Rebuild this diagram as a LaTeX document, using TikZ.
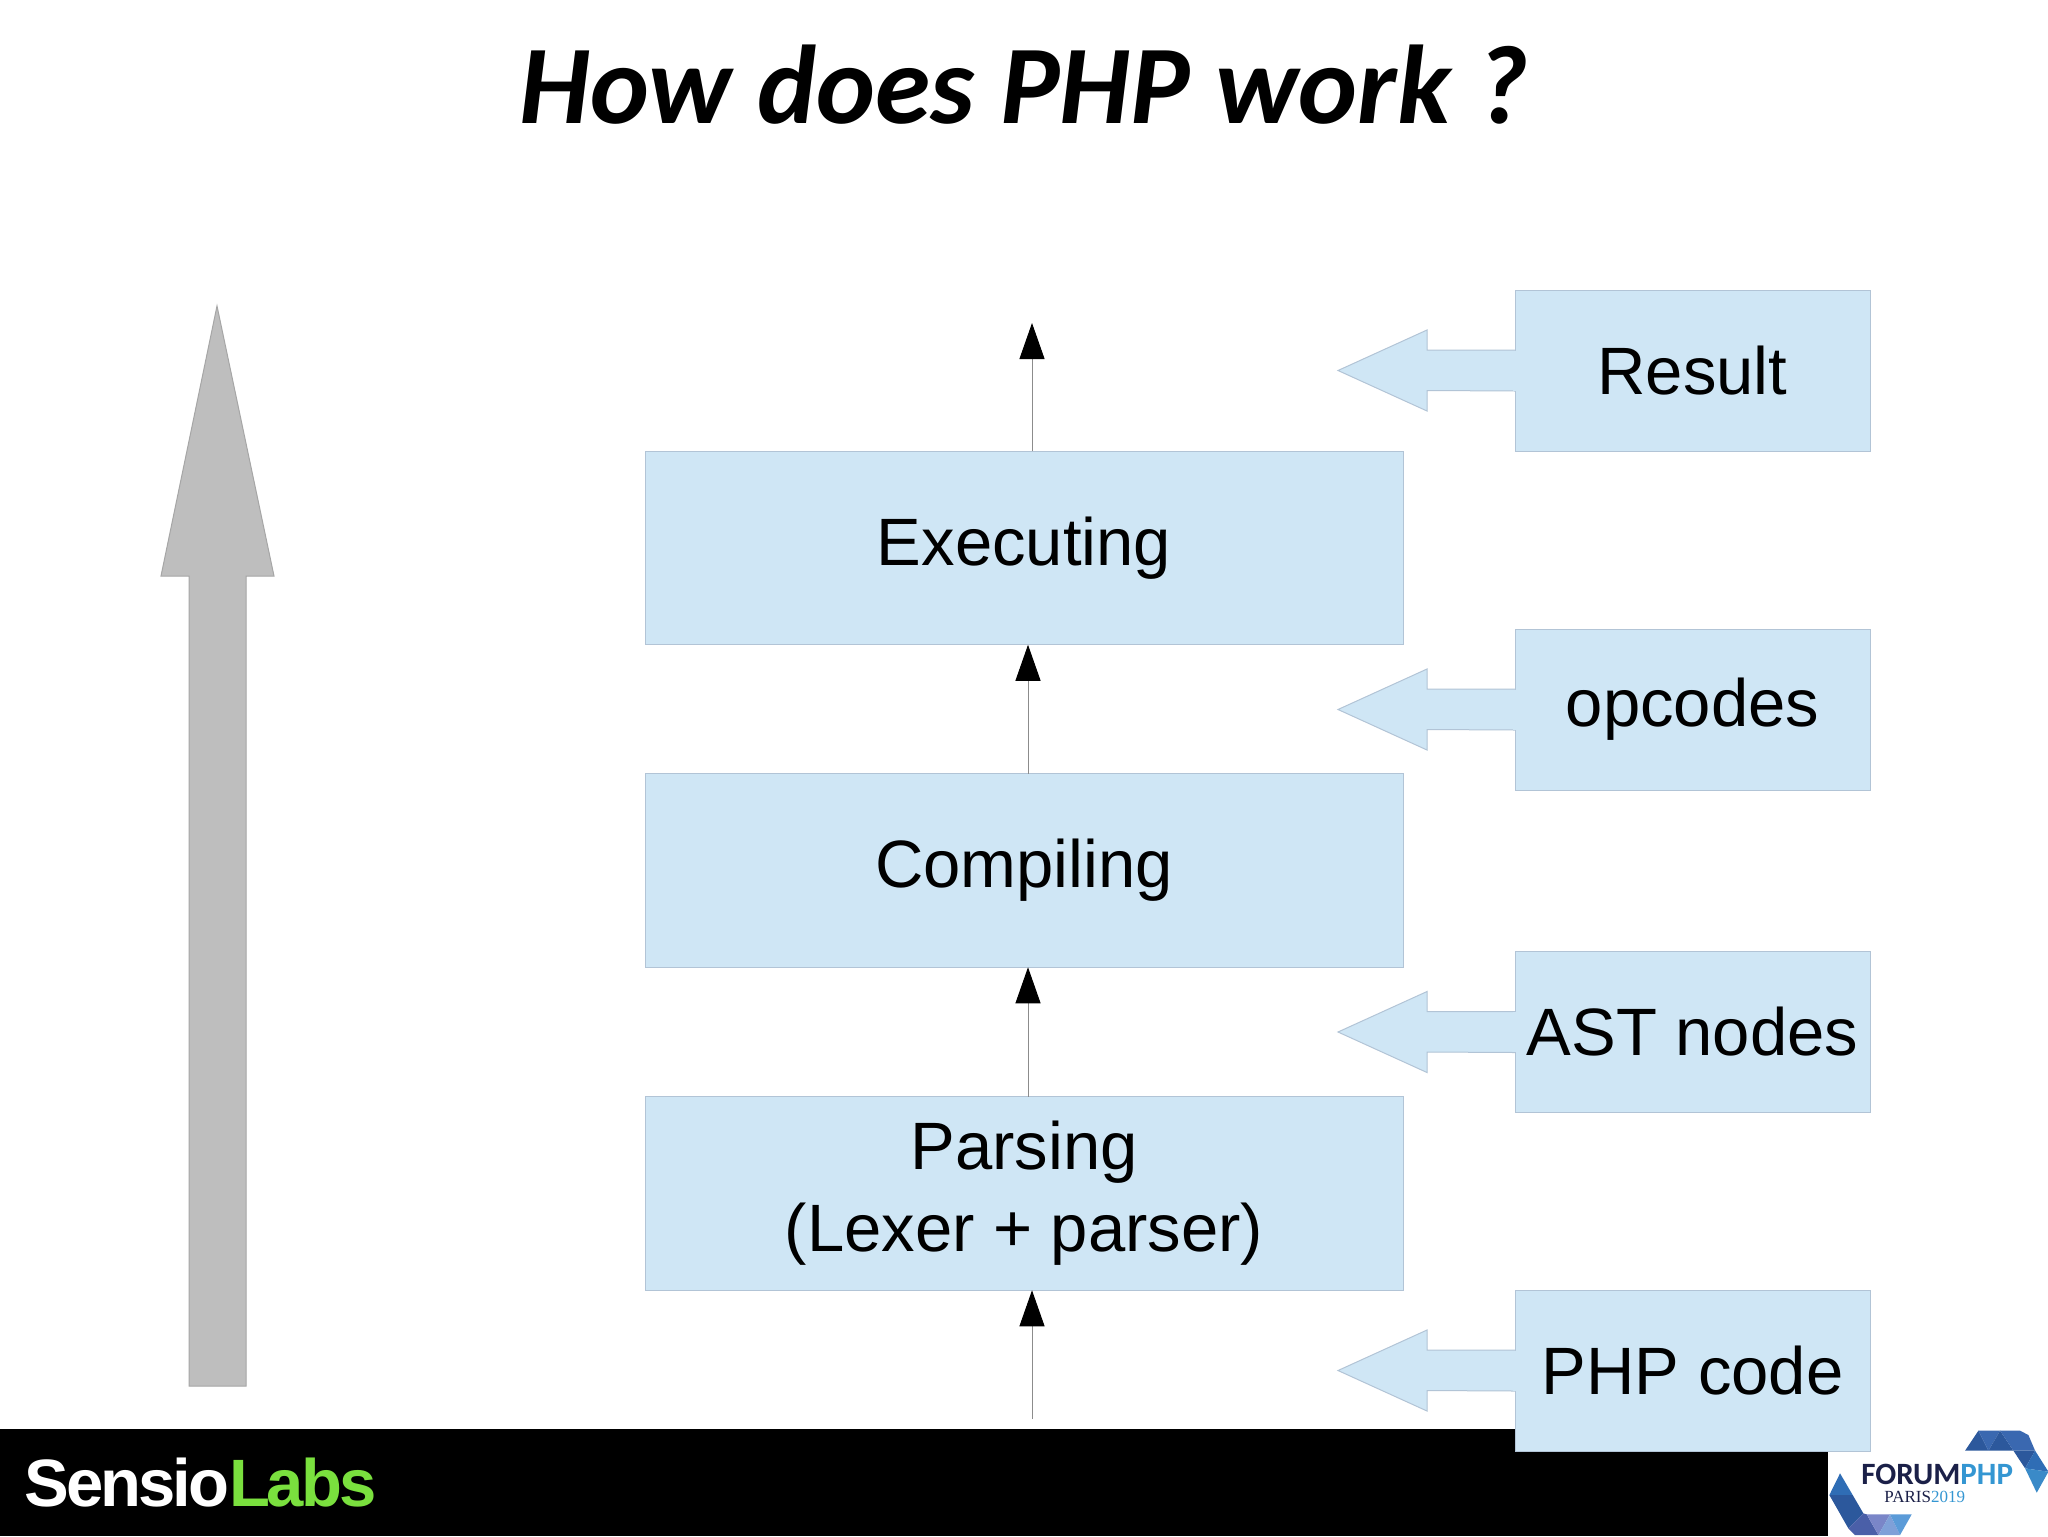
\documentclass[tikz,border=0pt]{standalone}
\usepackage{fontspec}
\setmainfont{Liberation Sans}
\newfontfamily\titlefont{Carlito}
\newfontfamily\sensiofont[LetterSpace=-4.5]{Liberation Sans}
\newfontfamily\forumfont{Carlito}
\newfontfamily\parisfont{Liberation Serif}
\usetikzlibrary{arrows.meta}
\definecolor{boxfill}{RGB}{207,230,245}
\definecolor{boxline}{RGB}{178,196,214}
\definecolor{biggrey}{RGB}{190,190,190}
\definecolor{sensiogreen}{RGB}{122,224,62}
\definecolor{forumnavy}{RGB}{27,32,72}
\definecolor{forumblue}{RGB}{52,150,210}
\definecolor{ribA}{RGB}{44,88,156}
\definecolor{ribB}{RGB}{58,104,176}
\definecolor{ribC}{RGB}{47,109,181}
\definecolor{ribD}{RGB}{58,138,200}
\definecolor{ribE}{RGB}{74,95,168}
\definecolor{ribF}{RGB}{122,134,200}
\definecolor{ribG}{RGB}{127,160,216}
\definecolor{ribH}{RGB}{91,155,216}
\tikzstyle{stage} = [draw=boxline, fill=boxfill, line width=0.5pt, rectangle, inner sep=0pt, outer sep=0pt, minimum width=379pt, minimum height=96.75pt, align=center, font=\fontsize{33.5}{41}\selectfont]
\tikzstyle{data} = [draw=boxline, fill=boxfill, line width=0.5pt, rectangle, inner sep=0pt, outer sep=0pt, minimum width=177.5pt, minimum height=80.5pt, font=\fontsize{33.5}{41}\selectfont]
\tikzstyle{feed} = [draw=boxline, fill=boxfill, line width=0.5pt, line join=miter]
\tikzstyle{flow} = [draw=black!45, line width=0.5pt, -{Triangle[length=18pt,width=12.5pt,black]}]
\newcommand{\feedarrow}[1]{%
	\draw [feed] ([yshift=10.25pt]#1.west) -- ++(-44pt,0) -- ++(0,10pt) -- ++(-44.5pt,-20.25pt) -- ++(44.5pt,-20.25pt) -- ++(0,10.25pt) -- ([yshift=-10.25pt]#1.west);
	\fill [boxfill] ([yshift=10pt,xshift=-1pt]#1.west) rectangle ([yshift=-10pt,xshift=0.5pt]#1.west);
}

\begin{document}
\begin{tikzpicture}[x=0.5pt, y=-0.5pt]
	\useasboundingbox (0,0) rectangle (2048,1536);
	\fill [white] (0,0) rectangle (2048,1536);
	\fill [black] (0,1429) rectangle (1828,1536);

	\node (title) at (1024,85) {\titlefont\fontsize{56}{60}\selectfont\bfseries\itshape How does PHP work ?};

	% big arrow on the left
	\draw [draw=black!35, fill=biggrey, line width=0.5pt] (217,306) -- (274,576) -- (246,576) -- (246,1386) -- (189,1386) -- (189,576) -- (161,576) -- cycle;

	% stages
	\node [stage] (exec) at (1024,548) {Executing};
	\node [stage] (comp) at (1024,870.5) {Compiling};
	\node [stage] (pars) at (1024,1193.5) {Parsing\\(Lexer + parser)};

	% data
	\node [data] (res) at (1692.5,370.5) {Result};
	\node [data] (opc) at (1692.5,709.5) {opcodes};
	\node [data] (ast) at (1692.5,1032) {AST nodes};
	\node [data] (php) at (1692.5,1370.5) {PHP code};
	\foreach \name in {res,opc,ast,php} {
		\feedarrow{\name}
	}

	\coordinate (top) at (1032,323);
	\coordinate (bottom) at (1032,1419);
	\draw [flow] (exec.north -| top) -- (top);
	\draw [flow] ([xshift=2pt]comp.north) -- ([xshift=2pt]exec.south);
	\draw [flow] ([xshift=2pt]pars.north) -- ([xshift=2pt]comp.south);
	\draw [flow] (bottom) -- (pars.south -| bottom);

	% logos
	\node [anchor=base west, inner sep=0pt] (sensio) at (24,1506) {\sensiofont\fontsize{33.5}{36}\selectfont\bfseries\textcolor{white}{Sensio}\textcolor{sensiogreen}{Labs}};

	\begin{scope}[shift={(1780,1400)}, x=0.1667pt, y=-0.1667pt]
		\fill [ribA] (555,152) -- (595,92) -- (625,152) -- cycle;
		\fill [ribB] (595,92) -- (660,92) -- (625,152) -- cycle;
		\fill [ribA] (625,152) -- (660,92) -- (700,152) -- cycle;
		\fill [ribB] (660,92) -- (720,92) -- (745,105) -- (765,152) -- (700,152) -- cycle;
		\fill [ribA] (700,152) -- (765,152) -- (735,205) -- cycle;
		\fill [ribC] (765,152) -- (805,215) -- (735,205) -- cycle;
		\fill [ribD] (735,205) -- (805,215) -- (770,278) -- cycle;

		\fill [ribC] (180,220) -- (148,285) -- (218,285) -- cycle;
		\fill [ribA] (148,285) -- (205,385) -- (250,340) -- (218,285) -- cycle;
		\fill [ribE] (205,385) -- (225,405) -- (295,405) -- (260,343) -- (250,340) -- cycle;
		\fill [ribF] (260,343) -- (330,343) -- (295,405) -- cycle;
		\fill [ribG] (295,405) -- (360,405) -- (330,343) -- cycle;
		\fill [ribH] (330,343) -- (395,343) -- (360,405) -- cycle;
	\end{scope}
	\node [anchor=base west, inner sep=0pt] (forum) at (1861,1484) {\forumfont\fontsize{15.5}{17}\selectfont\bfseries\textcolor{forumnavy}{FORUM}\textcolor{forumblue}{PHP}};
	\node [anchor=base west, inner sep=0pt] (paris) at (1884,1502) {\parisfont\fontsize{8.5}{10}\selectfont\textcolor{forumnavy}{PARIS}\textcolor{forumblue}{2019}};
\end{tikzpicture}
\end{document}
